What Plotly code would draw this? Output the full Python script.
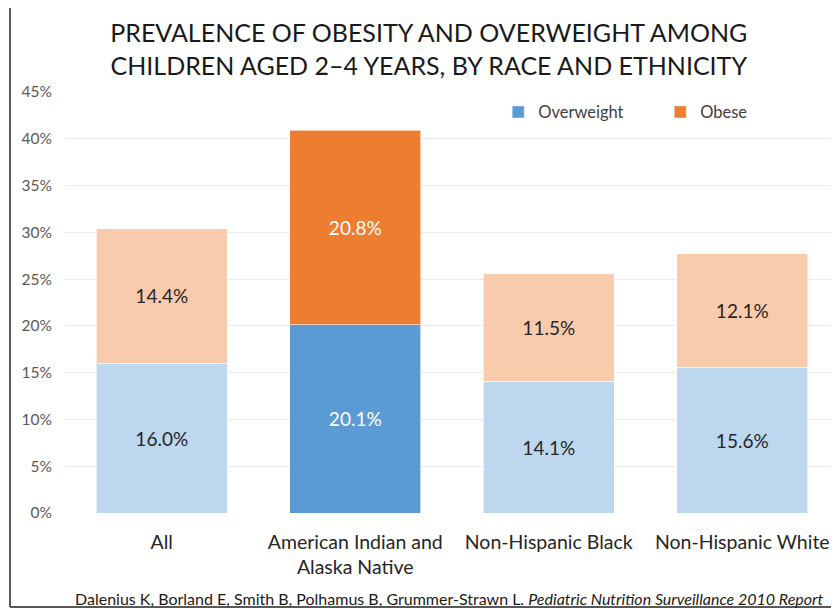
import plotly.graph_objects as go

categories = ["All", "American Indian and<br>Alaska Native", "Non-Hispanic Black", "Non-Hispanic White"]
overweight = [16.0, 20.1, 14.1, 15.6]
obese = [14.4, 20.8, 11.5, 12.1]
ow_colors = ["#BDD7EE", "#5B9BD5", "#BDD7EE", "#BDD7EE"]
ob_colors = ["#F8CBAD", "#ED7D31", "#F8CBAD", "#F8CBAD"]
ow_text_colors = ["#262626", "#FFFFFF", "#262626", "#262626"]
ob_text_colors = ["#262626", "#FFFFFF", "#262626", "#262626"]
y_ticks = [0, 5, 10, 15, 20, 25, 30, 35, 40, 45]
y_ticklabels = [f"{v}%" for v in y_ticks]

FONT = "Lato"

fig = go.Figure()
fig.add_trace(go.Bar(
    x=categories, y=overweight, name="Overweight", showlegend=False,
    marker=dict(color=ow_colors, line=dict(color="rgba(255,255,255,0.6)", width=1)),
    text=[f"{v:.1f}%" for v in overweight], textposition="inside", insidetextanchor="middle",
    textfont=dict(color=ow_text_colors, size=19, family=FONT), width=0.675,
))
fig.add_trace(go.Bar(
    x=categories, y=obese, name="Obese", showlegend=False,
    marker=dict(color=ob_colors, line=dict(color="rgba(255,255,255,0.6)", width=1)),
    text=[f"{v:.1f}%" for v in obese], textposition="inside", insidetextanchor="middle",
    textfont=dict(color=ob_text_colors, size=19, family=FONT), width=0.675,
))
# legend-only entries
fig.add_trace(go.Bar(x=[categories[0]], y=[None], name="Overweight", marker_color="#5B9BD5"))
fig.add_trace(go.Bar(x=[categories[0]], y=[None], name="Obese", marker_color="#ED7D31"))

# page body adds an 8px margin, so the figure is 8px smaller than the window
fig.update_layout(
    barmode="stack",
    width=831, height=601,
    margin=dict(l=57, r=0, t=84, b=96, autoexpand=False),
    paper_bgcolor="white", plot_bgcolor="white",
    font=dict(family=FONT, color="#262626"),
    title=dict(
        text="PREVALENCE OF OBESITY AND OVERWEIGHT AMONG<br>CHILDREN AGED 2–4 YEARS, BY RACE AND ETHNICITY",
        x=0.470, xref="paper", xanchor="center", y=0.943, yanchor="middle",
        font=dict(size=25, family=FONT, color="#1a1a1a"),
    ),
    legend=dict(
        orientation="h", x=0.5597, y=0.952, xanchor="left", yanchor="middle",
        font=dict(size=16.5, color="#404040"), entrywidth=117, traceorder="normal",
        bgcolor="rgba(0,0,0,0)",
    ),
    showlegend=True,
)
fig.update_xaxes(
    tickfont=dict(size=19.5, color="#262626"), showline=False, ticks="",
    range=[-0.5, 3.5], ticklabelstandoff=15,
)
fig.update_yaxes(
    range=[0, 45], tickvals=y_ticks, ticktext=y_ticklabels,
    tickfont=dict(size=15.5, color="#595959"),
    showgrid=True, gridcolor="#EBEBEB", gridwidth=1, zeroline=False,
    showline=False, ticks="", ticklabelstandoff=12,
)

fig.add_annotation(
    text="Dalenius K, Borland E, Smith B, Polhamus B, Grummer-Strawn L. <i>Pediatric Nutrition Surveillance 2010 Report</i>",
    xref="paper", yref="paper", x=(826 - 65) / 774, y=(513 - 598) / 421, xanchor="right", yanchor="middle",
    showarrow=False, font=dict(size=16, color="#1a1a1a", family=FONT),
)

# frame lines
fx = (10 - 65) / 774
ftop = (513 - 6) / 421
fbot = (513 - 607) / 421
fig.add_shape(type="line", xref="paper", yref="paper",
              x0=fx, x1=fx, y0=ftop, y1=fbot, line=dict(color="#595959", width=2))
fig.add_shape(type="line", xref="paper", yref="paper",
              x0=fx, x1=1.01, y0=ftop, y1=ftop, line=dict(color="#595959", width=2))
fig.add_shape(type="line", xref="paper", yref="paper",
              x0=fx, x1=1.01, y0=fbot, y1=fbot, line=dict(color="#595959", width=2))

fig.write_html("out.html")
